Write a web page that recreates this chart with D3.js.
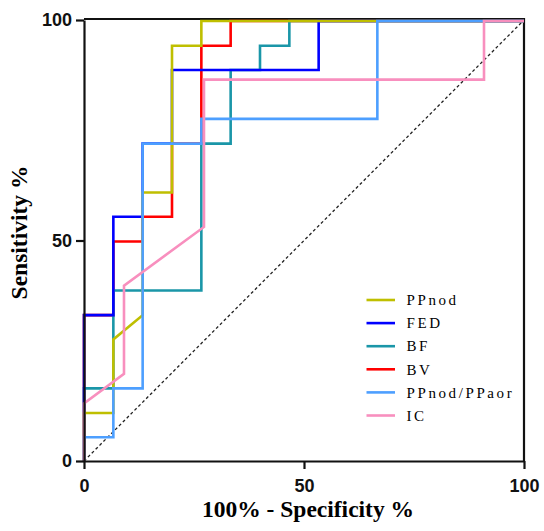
<!DOCTYPE html>
<meta charset="utf-8">
<script src="https://d3js.org/d3.v7.min.js"></script>
<style>
  body { margin: 0; background: #fff; }
</style>
<div id="my_dataviz"></div>
<script>
  // ROC curves, x = 100% - specificity, y = sensitivity
  var seriesNames = ["PPnod", "FED", "BF", "BV", "PPnod/PPaor", "IC"];
  var seriesColors = ["#bfbf00", "#0000ff", "#1a96a8", "#ff0000", "#4d9fff", "#f88fbe"];

  var ppnodX = [0, 0, 6.67, 6.67, 13.33, 13.33, 20, 20, 26.67, 26.67, 100];
  var ppnodY = [0, 11.1, 11.1, 27.8, 33.3, 61.1, 61.1, 94.4, 94.4, 100, 100];

  var fedX = [0, 0, 6.67, 6.67, 13.33, 13.33, 20, 20, 53.33, 53.33, 100];
  var fedY = [0, 33.3, 33.3, 55.6, 55.6, 72.2, 72.2, 88.9, 88.9, 100, 100];

  var bfX = [0, 0, 6.67, 6.67, 26.67, 26.67, 33.33, 33.33, 40, 40, 46.67, 46.67, 100];
  var bfY = [0, 16.7, 16.7, 38.9, 38.9, 72.2, 72.2, 88.9, 88.9, 94.4, 94.4, 100, 100];

  var bvX = [0, 0, 6.67, 6.67, 13.33, 13.33, 20, 20, 26.67, 26.67, 33.33, 33.33, 100];
  var bvY = [0, 33.3, 33.3, 50, 50, 55.6, 55.6, 72.2, 72.2, 94.4, 94.4, 100, 100];

  var ratioX = [0, 0, 6.67, 6.67, 13.33, 13.33, 26.67, 26.67, 66.67, 66.67, 100];
  var ratioY = [0, 5.6, 5.6, 16.7, 16.7, 72.2, 72.2, 77.8, 77.8, 100, 100];

  var icX = [0, 0, 9.09, 9.09, 27.27, 27.27, 90.91, 90.91, 100];
  var icY = [0, 13.3, 20, 40, 53.3, 86.7, 86.7, 100, 100];

  var xTicks = [0, 50, 100];
  var yTicks = [0, 50, 100];

  // drawing order, bottom to top
  var drawOrder = ["BV", "BF", "FED", "PPnod", "PPnod/PPaor", "IC"];
  var curves = {
    "PPnod": [ppnodX, ppnodY],
    "FED": [fedX, fedY],
    "BF": [bfX, bfY],
    "BV": [bvX, bvY],
    "PPnod/PPaor": [ratioX, ratioY],
    "IC": [icX, icY]
  };

  var margin = {top: 20, right: 20, bottom: 70, left: 84},
      width = 524 - margin.left,
      height = 461 - margin.top;

  var svg = d3.select("#my_dataviz")
    .append("svg")
      .attr("width", 544)
      .attr("height", 531)
    .append("g")
      .attr("transform", "translate(" + margin.left + "," + margin.top + ")");

  var x = d3.scaleLinear().domain([0, 100]).range([0, width]);
  var y = d3.scaleLinear().domain([0, 100]).range([height, 0]);

  var color = d3.scaleOrdinal().domain(seriesNames).range(seriesColors);

  // chance diagonal
  svg.append("line")
    .attr("x1", x(0)).attr("y1", y(0))
    .attr("x2", x(100)).attr("y2", y(100))
    .attr("stroke", "#222")
    .attr("stroke-width", 1.3)
    .attr("stroke-dasharray", "3,2.5");

  // top and right frame (under the curves, like the original)
  svg.append("path")
    .attr("d", "M" + x(0) + "," + (y(100) - 1) + "H" + x(100) + "V" + y(0))
    .attr("fill", "none")
    .attr("stroke", "#111")
    .attr("stroke-width", 2.2);

  var line = d3.line()
    .x(function(d) { return x(d[0]); })
    .y(function(d) { return y(d[1]); });

  drawOrder.forEach(function(name) {
    var pts = d3.zip(curves[name][0], curves[name][1]);
    svg.append("path")
      .datum(pts)
      .attr("fill", "none")
      .attr("stroke", color(name))
      .attr("stroke-width", 2.6)
      .attr("transform", "translate(0,1)")
      .attr("d", line);
  });

  // axes
  var xAxis = svg.append("g")
    .attr("transform", "translate(0," + height + ")")
    .call(d3.axisBottom(x).tickValues(xTicks).tickSize(8).tickSizeOuter(0).tickPadding(10));
  var yAxis = svg.append("g")
    .call(d3.axisLeft(y).tickValues(yTicks).tickSize(8).tickSizeOuter(0).tickPadding(4));

  [xAxis, yAxis].forEach(function(a) {
    a.selectAll("path, line").attr("stroke", "#111").attr("stroke-width", 2.2);
    a.selectAll("text")
      .style("font-family", "'Liberation Sans', Arial, sans-serif")
      .style("font-weight", "bold")
      .style("font-size", "18px")
      .attr("fill", "#111");
  });

  // axis titles
  svg.append("text")
    .attr("text-anchor", "middle")
    .attr("x", width / 2 + 4)
    .attr("y", height + 56)
    .style("font-family", "'Liberation Serif', 'Times New Roman', serif")
    .style("font-weight", "bold")
    .style("font-size", "23.5px")
    .text("100% - Specificity %");

  svg.append("text")
    .attr("text-anchor", "middle")
    .attr("transform", "translate(" + (-57) + "," + (height / 2 - 8) + ") rotate(-90)")
    .style("font-family", "'Liberation Serif', 'Times New Roman', serif")
    .style("font-weight", "bold")
    .style("font-size", "23.5px")
    .text("Sensitivity %");

  // legend
  var legend = svg.selectAll(".legend")
    .data(seriesNames)
    .enter()
    .append("g")
      .attr("class", "legend")
      .attr("transform", function(d, i) {
        return "translate(" + (366.5 - margin.left) + "," + (300 - margin.top + i * 23.1) + ")";
      });

  legend.append("line")
    .attr("x1", 0).attr("x2", 28.5)
    .attr("y1", 0).attr("y2", 0)
    .attr("stroke", function(d) { return color(d); })
    .attr("stroke-width", 2.6);

  legend.append("text")
    .attr("x", 40)
    .attr("y", 0)
    .attr("dy", "0.35em")
    .style("font-family", "'Liberation Serif', 'Times New Roman', serif")
    .style("font-size", "15px")
    .style("letter-spacing", "2.6px")
    .text(function(d) { return d; });
</script>
